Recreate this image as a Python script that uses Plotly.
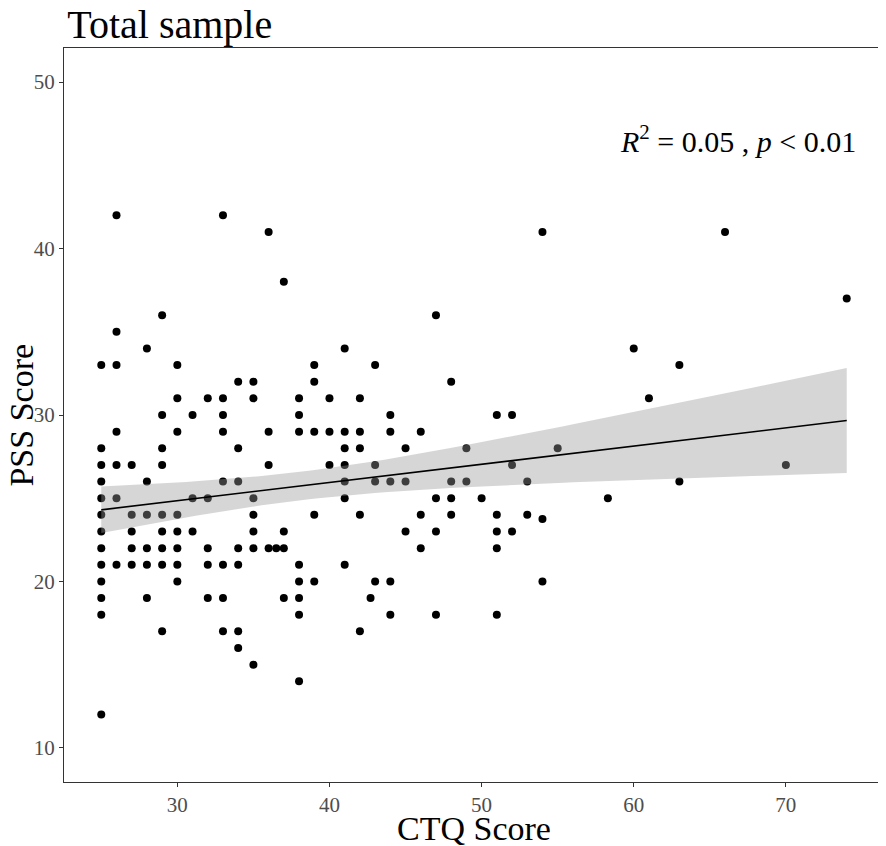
import numpy as np
import plotly.graph_objects as go

# CTQ score of each participant, one row per PSS level (see pss_score)
ctq_score = [
    26, 33,
    36, 54, 66,
    37,
    74,
    29, 47,
    26,
    28, 41, 60,
    25, 26, 30, 39, 43, 63,
    34, 35, 39, 48,
    30, 32, 33, 35, 38, 40, 42, 61,
    29, 31, 33, 38, 44, 51, 52,
    26, 30, 33, 36, 38, 39, 40, 41, 42, 44, 46,
    25, 29, 34, 41, 42, 45, 49, 55,
    25, 26, 27, 29, 36, 40, 41, 43, 52, 70,
    25, 28, 33, 34, 41, 43, 44, 45, 48, 49, 53, 63,
    25, 26, 31, 32, 35, 41, 47, 48, 50, 58.3,
    25, 27, 28, 29, 30, 35, 39, 42, 46, 48, 51, 53,
    54,
    25, 27, 29, 30, 31, 35, 37, 45, 47, 51, 52,
    25, 27, 28, 29, 30, 32, 34, 35, 36, 36.5, 37, 46, 51,
    25, 26, 27, 28, 29, 30, 32, 33, 34, 38, 41,
    25, 30, 38, 39, 43, 44, 54,
    25, 28, 32, 33, 37, 38, 42.7,
    25, 38, 44, 47, 51,
    29, 33, 34, 42,
    34,
    35,
    38,
    25,
]

pss_score = [
    42, 42,
    41, 41, 41,
    38,
    37,
    36, 36,
    35,
    34, 34, 34,
    33, 33, 33, 33, 33, 33,
    32, 32, 32, 32,
    31, 31, 31, 31, 31, 31, 31, 31,
    30, 30, 30, 30, 30, 30, 30,
    29, 29, 29, 29, 29, 29, 29, 29, 29, 29, 29,
    28, 28, 28, 28, 28, 28, 28, 28,
    27, 27, 27, 27, 27, 27, 27, 27, 27, 27,
    26, 26, 26, 26, 26, 26, 26, 26, 26, 26, 26, 26,
    25, 25, 25, 25, 25, 25, 25, 25, 25, 25,
    24, 24, 24, 24, 24, 24, 24, 24, 24, 24, 24, 24,
    23.75,
    23, 23, 23, 23, 23, 23, 23, 23, 23, 23, 23,
    22, 22, 22, 22, 22, 22, 22, 22, 22, 22, 22, 22, 22,
    21, 21, 21, 21, 21, 21, 21, 21, 21, 21, 21,
    20, 20, 20, 20, 20, 20, 20,
    19, 19, 19, 19, 19, 19, 19,
    18, 18, 18, 18, 18,
    17, 17, 17, 17,
    16,
    15,
    14,
    12,
]

x_ticks = [30, 40, 50, 60, 70]
y_ticks = [10, 20, 30, 40, 50]

x = np.array(ctq_score, dtype=float)
y = np.array(pss_score, dtype=float)

# linear fit with 95% confidence band (like geom_smooth(method="lm"))
n = len(x)
slope, intercept = np.polyfit(x, y, 1)
resid = y - (intercept + slope * x)
s = np.sqrt(np.sum(resid ** 2) / (n - 2))
sxx = np.sum((x - x.mean()) ** 2)
xs = np.linspace(x.min(), x.max(), 80)
fit = intercept + slope * xs
se = s * np.sqrt(1 / n + (xs - x.mean()) ** 2 / sxx)
t_crit = 1.973
upper = fit + t_crit * se
lower = fit - t_crit * se

serif = "Liberation Serif"

fig = go.Figure()

fig.add_trace(go.Scatter(x=x, y=y, mode="markers",
                         marker=dict(color="black", size=8), showlegend=False))

# ribbon drawn over the points, so points under it look grey
fig.add_trace(go.Scatter(x=xs, y=lower, mode="lines", line=dict(width=0),
                         showlegend=False, hoverinfo="skip"))
fig.add_trace(go.Scatter(x=xs, y=upper, mode="lines", line=dict(width=0),
                         fill="tonexty", fillcolor="rgba(153,153,153,0.4)",
                         showlegend=False, hoverinfo="skip"))
fig.add_trace(go.Scatter(x=xs, y=fit, mode="lines",
                         line=dict(color="black", width=1.6), showlegend=False))

fig.add_annotation(x=74.75, y=46.6, xref="x", yref="y", xanchor="right",
                   yanchor="middle", showarrow=False,
                   text="<i>R</i><sup>2</sup> = 0.05 , <i>p</i> &lt; 0.01",
                   font=dict(family=serif, size=30, color="black"))

# axis titles
fig.add_annotation(x=0.5, y=-0.064, xref="paper", yref="paper",
                   xanchor="center", yanchor="middle", showarrow=False,
                   text="CTQ Score", font=dict(family=serif, size=34, color="black"))
fig.add_annotation(x=-0.053, y=0.5, xref="paper", yref="paper",
                   xanchor="center", yanchor="middle", showarrow=False, textangle=-90,
                   text="PSS Score", font=dict(family=serif, size=34, color="black"))

axis_style = dict(showgrid=False, zeroline=False, showline=True, mirror=True,
                  linecolor="#333333", linewidth=1.2, ticks="outside", ticklen=4,
                  tickcolor="#333333", automargin=False,
                  tickfont=dict(family=serif, size=21, color="#4D4D4D"))

fig.update_layout(
    width=878, height=838,
    margin=dict(l=56, r=2, t=40, b=64),
    plot_bgcolor="white", paper_bgcolor="white",
    title=dict(text="Total sample", xref="paper", x=0.004, xanchor="left",
               yref="container", y=0.998, yanchor="top",
               font=dict(family=serif, size=40, color="black")),
    xaxis=dict(range=[22.55, 76.45], tickvals=x_ticks, **axis_style),
    yaxis=dict(range=[7.95, 52.05], tickvals=y_ticks, **axis_style),
)

fig.write_html("out.html")
